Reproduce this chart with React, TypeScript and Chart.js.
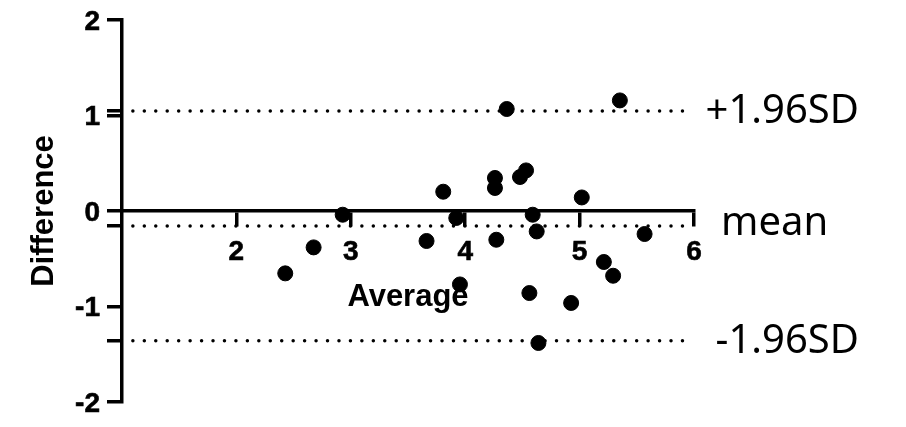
import React, { useEffect, useRef } from "react";
import { Chart, registerables } from "chart.js";

Chart.register(...registerables);

// Bland-Altman data
const averages = [4.363, 5.352, 3.808, 4.26, 4.26, 4.532, 4.479, 5.019, 2.929, 3.922, 4.59, 4.625, 4.272, 3.662, 2.675, 2.427, 5.568, 5.212, 5.293, 3.954, 4.561, 4.926, 4.64];
const differences = [1.068, 1.158, 0.202, 0.346, 0.241, 0.425, 0.356, 0.142, -0.039, -0.073, -0.039, -0.214, -0.301, -0.314, -0.381, -0.653, -0.241, -0.534, -0.678, -0.769, -0.859, -0.963, -1.382];
const limitValues = [1.047, -0.156, -1.358];
const limitLabels = ["+1.96SD", "mean", "-1.96SD"];
const limitSpan = [1.095, 5.915];
const xTickValues = [2, 3, 4, 5, 6];
const yTickValues = [-2, -1, 0, 1, 2];
const xRange = [1, 6];
const yRange = [-2, 2];
const xTitle = "Average";
const yTitle = "Difference";

const BOLD = '"Liberation Sans", Arial, sans-serif';

const limitLabelPlugin = {
  id: "limitLabels",
  afterDraw(chart: any) {
    const { ctx, chartArea, scales } = chart;
    ctx.save();
    ctx.fillStyle = "#000";
    ctx.font = '40px "Noto Sans", "Open Sans", sans-serif';
    ctx.textBaseline = "alphabetic";
    limitValues.forEach((v, i) => {
      const y = scales.y.getPixelForValue(v);
      const label = limitLabels[i];
      if (i === 1) {
        ctx.textAlign = "left";
        ctx.fillText(label, chartArea.right + 27, y + 9);
      } else {
        ctx.textAlign = "right";
        ctx.fillText(label, chartArea.right + 165, y + 12);
      }
    });
    ctx.restore();
  },
};

export default function App() {
  const ref = useRef<HTMLCanvasElement | null>(null);

  useEffect(() => {
    document.body.style.margin = "0";
    const canvas = ref.current;
    if (!canvas) return;

    const zeroPad = (s: any) => {
      s.paddingTop = 0;
      s.paddingBottom = 0;
      s.paddingLeft = 0;
      s.paddingRight = 0;
    };

    const limitDatasets = limitValues.map((v) => ({
      type: "line" as const,
      data: [
        { x: limitSpan[0], y: v },
        { x: limitSpan[1], y: v },
      ],
      borderColor: "#000",
      borderWidth: 3.5,
      borderDash: [0, 11.45],
      borderCapStyle: "round" as const,
      pointRadius: 0,
      fill: false,
      order: 2,
    }));

    const tickFont = { family: BOLD, size: 28, weight: "bold" as const };

    const chart = new Chart(canvas, {
      type: "scatter",
      data: {
        datasets: [
          {
            type: "scatter",
            data: averages.map((x, i) => ({ x, y: differences[i] })),
            backgroundColor: "#000",
            borderColor: "#000",
            borderWidth: 1,
            pointRadius: 7.5,
            pointHoverRadius: 7.5,
            order: 1,
          },
          ...limitDatasets,
        ] as any,
      },
      plugins: [limitLabelPlugin],
      options: {
        animation: false,
        responsive: false,
        events: [],
        layout: { padding: { left: 0, right: 212, top: 20, bottom: 25 } },
        plugins: { legend: { display: false }, tooltip: { enabled: false } },
        scales: {
          x: {
            type: "linear",
            min: xRange[0],
            max: xRange[1],
            position: { y: 0 } as any,
            afterBuildTicks: (s: any) => {
              s.ticks = xTickValues.map((value) => ({ value }));
            },
            afterFit: zeroPad,
            ticks: {
              autoSkip: false,
              maxRotation: 0,
              padding: 10,
              color: "#000",
              textStrokeColor: "#000",
              textStrokeWidth: 0.6,
              font: tickFont,
              callback: (v: any) => String(v),
            },
            grid: {
              drawOnChartArea: false,
              drawTicks: true,
              tickLength: 14,
              color: "#000",
              lineWidth: 3.5,
            },
            border: { display: true, color: "#000", width: 3.5 },
            title: {
              display: true,
              text: xTitle,
              color: "#000",
              font: { family: BOLD, size: 31, weight: "bold" },
              padding: { top: 0, bottom: 0 },
            },
          },
          y: {
            type: "linear",
            min: yRange[0],
            max: yRange[1],
            position: "left",
            afterBuildTicks: (s: any) => {
              s.ticks = [...yTickValues, ...limitValues]
                .sort((a, b) => a - b)
                .map((value) => ({ value }));
            },
            afterFit: (s: any) => {
              s.width = 122;
              zeroPad(s);
            },
            ticks: {
              autoSkip: false,
              padding: 7,
              labelOffset: 2,
              color: "#000",
              textStrokeColor: "#000",
              textStrokeWidth: 0.6,
              font: tickFont,
              callback: (v: any) => (yTickValues.includes(v) ? String(v) : ""),
            },
            grid: {
              drawOnChartArea: false,
              drawTicks: true,
              tickLength: 15,
              color: "#000",
              lineWidth: 3.5,
            },
            border: { display: true, color: "#000", width: 3.5 },
            title: {
              display: true,
              text: yTitle,
              color: "#000",
              font: { family: BOLD, size: 31, weight: "bold" },
              padding: { top: 26, bottom: 0 },
            },
          },
        },
      },
    });

    return () => chart.destroy();
  }, []);

  return (
    <div style={{ width: 906, height: 427 }}>
      <canvas ref={ref} width={906} height={427} style={{ display: "block" }} />
    </div>
  );
}
